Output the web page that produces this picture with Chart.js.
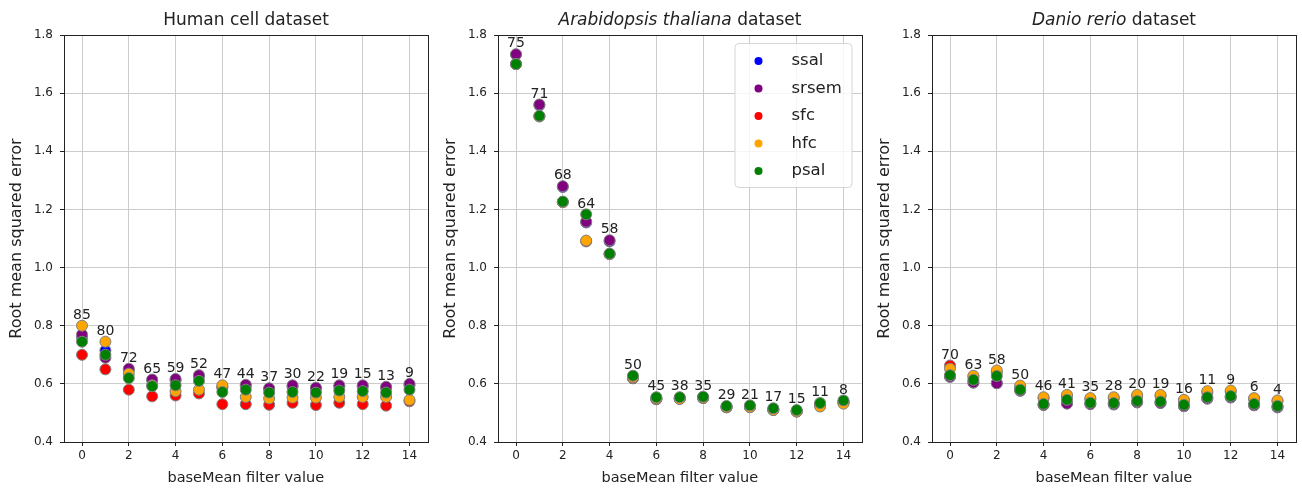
<!DOCTYPE html>
<html>
<head>
<meta charset="utf-8">
<script src="https://cdn.jsdelivr.net/npm/chart.js@4"></script>
<style>
  body { margin: 0; background: #fff; width: 1302px; height: 489px; overflow: hidden; font-family: 'DejaVu Sans', sans-serif; }
  .panel { position: absolute; top: 0; width: 434px; height: 489px; }
  .panel canvas { position: absolute; left: 0; top: 0; }
  .title { position: absolute; top: 9px; left: 64px; width: 364px; text-align: center; font-size: 17px; line-height: 20px; color: #222; white-space: nowrap; }
</style>
</head>
<body>
<div class="panel" style="left:0"><canvas id="c0" width="434" height="489"></canvas><div class="title">Human cell dataset</div></div>
<div class="panel" style="left:434px"><canvas id="c1" width="434" height="489"></canvas><div class="title"><i>Arabidopsis thaliana</i> dataset</div></div>
<div class="panel" style="left:868px"><canvas id="c2" width="434" height="489"></canvas><div class="title"><i>Danio rerio</i> dataset</div></div>
<script>
const xValues = [0, 1, 2, 3, 4, 5, 6, 7, 8, 9, 10, 11, 12, 13, 14];
const xTicks = [0, 2, 4, 6, 8, 10, 12, 14];
const yTicks = [0.4, 0.6, 0.8, 1.0, 1.2, 1.4, 1.6, 1.8];
const seriesNames = ['ssal', 'srsem', 'sfc', 'hfc', 'psal'];
const seriesColors = ['#0000ff', '#800080', '#ff0000', '#ffa500', '#008000'];

// Human cell dataset
const humanSsal  = [0.760, 0.715, 0.648, 0.612, 0.612, 0.625, 0.587, 0.593, 0.582, 0.590, 0.583, 0.590, 0.590, 0.586, 0.595];
const humanSrsem = [0.770, 0.690, 0.652, 0.615, 0.617, 0.630, 0.590, 0.597, 0.585, 0.595, 0.587, 0.595, 0.595, 0.590, 0.600];
const humanSfc   = [0.700, 0.650, 0.580, 0.557, 0.560, 0.567, 0.530, 0.530, 0.528, 0.535, 0.527, 0.535, 0.530, 0.525, 0.540];
const humanHfc   = [0.800, 0.745, 0.635, 0.595, 0.575, 0.580, 0.595, 0.555, 0.550, 0.553, 0.553, 0.555, 0.555, 0.555, 0.545];
const humanPsal  = [0.745, 0.700, 0.620, 0.592, 0.595, 0.610, 0.572, 0.580, 0.570, 0.572, 0.570, 0.577, 0.575, 0.570, 0.580];
const humanCounts = [85, 80, 72, 65, 59, 52, 47, 44, 37, 30, 22, 19, 15, 13, 9];

// Arabidopsis thaliana dataset
const arabSsal  = [1.732, 1.558, 1.277, 1.155, 1.090, 0.619, 0.547, 0.549, 0.551, 0.519, 0.521, 0.511, 0.505, 0.529, 0.537];
const arabSrsem = [1.734, 1.561, 1.280, 1.158, 1.094, 0.620, 0.548, 0.550, 0.552, 0.520, 0.522, 0.512, 0.506, 0.530, 0.538];
const arabSfc   = [1.700, 1.520, 1.225, 1.090, 1.046, 0.620, 0.548, 0.550, 0.552, 0.520, 0.520, 0.510, 0.505, 0.525, 0.535];
const arabHfc   = [1.700, 1.520, 1.225, 1.093, 1.046, 0.622, 0.550, 0.548, 0.552, 0.520, 0.520, 0.510, 0.505, 0.522, 0.532];
const arabPsal  = [1.700, 1.522, 1.227, 1.183, 1.048, 0.628, 0.554, 0.554, 0.556, 0.524, 0.526, 0.516, 0.510, 0.534, 0.543];
const arabCounts = [75, 71, 68, 64, 58, 50, 45, 38, 35, 29, 21, 17, 15, 11, 8];

// Danio rerio dataset
const danioSsal  = [0.624, 0.604, 0.603, 0.576, 0.527, 0.533, 0.530, 0.529, 0.536, 0.534, 0.523, 0.549, 0.553, 0.526, 0.519];
const danioSrsem = [0.625, 0.605, 0.602, 0.577, 0.528, 0.532, 0.531, 0.530, 0.537, 0.535, 0.524, 0.550, 0.554, 0.527, 0.520];
const danioSfc   = [0.663, 0.625, 0.640, 0.590, 0.550, 0.558, 0.548, 0.550, 0.558, 0.558, 0.542, 0.570, 0.573, 0.548, 0.540];
const danioHfc   = [0.652, 0.628, 0.646, 0.594, 0.554, 0.562, 0.551, 0.554, 0.562, 0.562, 0.545, 0.575, 0.577, 0.551, 0.543];
const danioPsal  = [0.630, 0.614, 0.627, 0.580, 0.531, 0.545, 0.535, 0.534, 0.541, 0.539, 0.528, 0.554, 0.558, 0.531, 0.524];
const danioCounts = [70, 63, 58, 50, 46, 41, 35, 28, 20, 19, 16, 11, 9, 6, 4];

const FONT = "'DejaVu Sans', sans-serif";
const TEXT = '#222';

// black box round the plot area, like matplotlib spines
const framePlugin = {
  id: 'frame',
  afterDraw(chart) {
    const { ctx, chartArea: a } = chart;
    ctx.save();
    ctx.strokeStyle = TEXT;
    ctx.lineWidth = 1;
    ctx.strokeRect(Math.round(a.left) + 0.5, Math.round(a.top) + 0.5, Math.round(a.right - a.left), Math.round(a.bottom - a.top));
    ctx.restore();
  }
};

// number of genes written above the highest point at each x
const countsPlugin = {
  id: 'counts',
  afterDatasetsDraw(chart, args, opts) {
    const { ctx, scales } = chart;
    ctx.save();
    ctx.font = '14px ' + FONT;
    ctx.fillStyle = TEXT;
    ctx.textAlign = 'center';
    ctx.textBaseline = 'middle';
    xValues.forEach((x, j) => {
      const top = Math.max(...chart.data.datasets.map(d => d.data[j].y));
      ctx.fillText(String(opts.labels[j]), scales.x.getPixelForValue(x), scales.y.getPixelForValue(top) - 10.5);
    });
    ctx.restore();
  }
};

const boxLegendPlugin = {
  id: 'boxLegend',
  afterDraw(chart, args, opts) {
    if (!opts.show) return;
    const { ctx, chartArea: a } = chart;
    const w = 117, h = 144;
    const left = a.right - 10 - w, top = a.top + 8;
    ctx.save();
    ctx.beginPath();
    ctx.roundRect(left + 0.5, top + 0.5, w, h, 4);
    ctx.fillStyle = 'rgba(255,255,255,0.8)';
    ctx.fill();
    ctx.strokeStyle = '#d6d6d6';
    ctx.lineWidth = 1;
    ctx.stroke();
    ctx.font = '16.5px ' + FONT;
    ctx.textBaseline = 'middle';
    seriesNames.forEach((name, i) => {
      const y = top + 18 + i * 27.5;
      ctx.beginPath();
      ctx.arc(left + 24, y, 4, 0, Math.PI * 2);
      ctx.fillStyle = seriesColors[i];
      ctx.fill();
      ctx.fillStyle = TEXT;
      ctx.fillText(name, left + 57, y);
    });
    ctx.restore();
  }
};

function makeChart(id, series, counts, showLegend) {
  new Chart(document.getElementById(id), {
    type: 'scatter',
    data: {
      datasets: seriesNames.map((name, i) => ({
        label: name,
        data: xValues.map((x, j) => ({ x: x, y: series[i][j] })),
        backgroundColor: seriesColors[i],
        borderColor: 'gray',
        borderWidth: 1,
        pointRadius: 5.5,
        order: seriesNames.length - i
      }))
    },
    options: {
      responsive: false,
      animation: false,
      layout: { padding: { top: 35, right: 6, left: 0, bottom: 0 } },
      plugins: {
        legend: { display: false },
        tooltip: { enabled: false },
        counts: { labels: counts },
        boxLegend: { show: showLegend }
      },
      scales: {
        x: {
          type: 'linear',
          min: -0.77,
          max: 14.77,
          afterBuildTicks: s => { s.ticks = xTicks.map(v => ({ value: v })); },
          afterFit: s => { s.height = 47; },
          grid: { color: '#cccccc', tickColor: TEXT, tickLength: 4 },
          border: { color: TEXT },
          ticks: { color: TEXT, font: { size: 12, family: FONT }, padding: 3, maxRotation: 0, callback: v => String(v) },
          title: { display: true, text: 'baseMean filter value', color: TEXT, font: { size: 14.5, family: FONT }, padding: { top: 0, bottom: 2 } }
        },
        y: {
          min: 0.4,
          max: 1.8,
          afterBuildTicks: s => { s.ticks = yTicks.map(v => ({ value: v })); },
          afterFit: s => { s.width = 64; },
          grid: { color: '#cccccc', tickColor: TEXT, tickLength: 4 },
          border: { color: TEXT },
          ticks: { color: TEXT, font: { size: 12, family: FONT }, padding: 7, callback: v => Number(v).toFixed(1) },
          title: { display: true, text: 'Root mean squared error', color: TEXT, font: { size: 16, family: FONT }, padding: { top: 7, bottom: 0 } }
        }
      }
    },
    plugins: [framePlugin, countsPlugin, boxLegendPlugin]
  });
}

makeChart('c0', [humanSsal, humanSrsem, humanSfc, humanHfc, humanPsal], humanCounts, false);
makeChart('c1', [arabSsal, arabSrsem, arabSfc, arabHfc, arabPsal], arabCounts, true);
makeChart('c2', [danioSsal, danioSrsem, danioSfc, danioHfc, danioPsal], danioCounts, false);
</script>
</body>
</html>
